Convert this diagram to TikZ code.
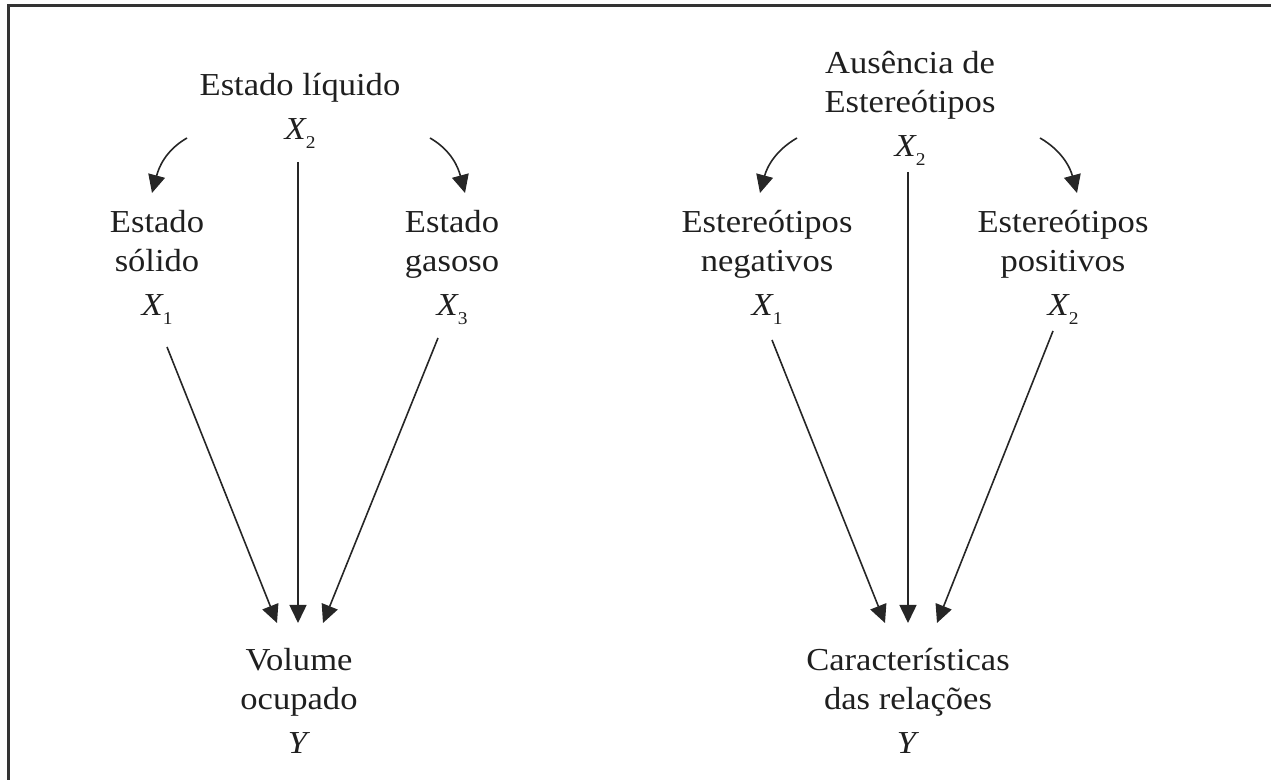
\documentclass[tikz,border=0pt]{standalone}
\usepackage{fontspec}
\setmainfont[FakeStretch=1.08]{Liberation Serif}
\usetikzlibrary{arrows.meta, calc}
\newcommand{\xvar}[1]{\textit{X}\kern-0.5pt\raisebox{-4.5pt}{\fontsize{9}{9}\selectfont #1}}

\begin{document}
\begin{tikzpicture}[
            x = 0.5pt, y = 0.5pt,
            > = {Triangle[length=9pt,width=8.5pt]},
 label/.style = {align=center, anchor=north, inner sep=0pt, text=black!88,
                 font=\fontsize{16}{19.5}\selectfont},
  link/.style = {line width=0.8pt, black!85, ->},
 frame/.style = {line width=1.3pt, black!80}
                        ]
\useasboundingbox (0,0) rectangle (1271,780);
% frame
    \draw[frame] (8.5,0) -- (8.5,774.3) -- (1271,774.3);
% left diagram
    \node[label] (liq)   at (300,707) {Estado líquido\\[2.5pt] \xvar{2}};
    \node[label] (solid) at (157,570) {Estado\\ sólido\\[2.5pt] \xvar{1}};
    \node[label] (gas)   at (452,570) {Estado\\ gasoso\\[2.5pt] \xvar{3}};
    \node[label] (vol)   at (299,132) {Volume\\ ocupado\\[2.5pt] \textit{Y}};
    \draw[link] ($(liq.north)+(-113,-65)$) to[out=210,in=75] ($(solid.north)+(-5,17)$);
    \draw[link] ($(liq.north)+(130,-65)$) to[out=-30,in=105] ($(gas.north)+(13,17)$);
    \draw[link] ($(solid.north)+(10,-137)$) -- ($(vol.north)+(-22,25)$);
    \draw[link] ($(liq.north)+(-2,-89)$)    -- ($(vol.north)+(-1,25)$);
    \draw[link] ($(gas.north)+(-14,-128)$)  -- ($(vol.north)+(24,25)$);
% right diagram
    \node[label] (aus) at (910,729)  {Ausência de\\ Estereótipos\\[2.5pt] \xvar{2}};
    \node[label] (neg) at (767,570)  {Estereótipos\\ negativos\\[2.5pt] \xvar{1}};
    \node[label] (pos) at (1063,570) {Estereótipos\\ positivos\\[2.5pt] \xvar{2}};
    \node[label] (car) at (908,132)  {Características\\ das relações\\[2.5pt] \textit{Y}};
    \draw[link] ($(aus.north)+(-113,-87)$) to[out=210,in=75] ($(neg.north)+(-7,17)$);
    \draw[link] ($(aus.north)+(130,-87)$) to[out=-30,in=105] ($(pos.north)+(14,17)$);
    \draw[link] ($(neg.north)+(5,-130)$)   -- ($(car.north)+(-23,25)$);
    \draw[link] ($(aus.north)+(-2,-121)$)  -- ($(car.north)+(0,25)$);
    \draw[link] ($(pos.north)+(-10,-121)$) -- ($(car.north)+(29,25)$);
\end{tikzpicture}
\end{document}
